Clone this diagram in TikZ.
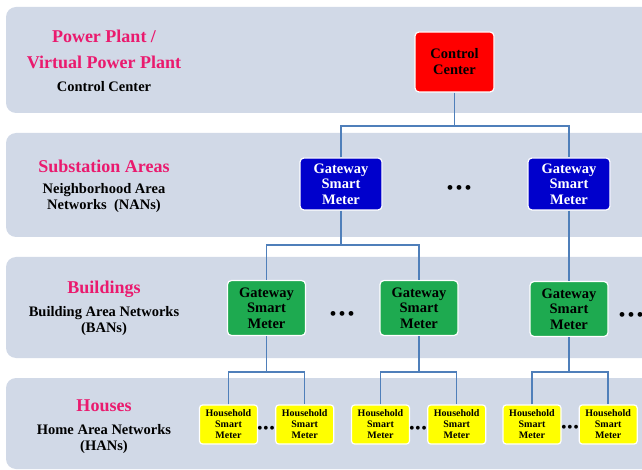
\documentclass[tikz,border=0pt]{standalone}
\usepackage{fontspec}
\setmainfont{Liberation Serif}
\usetikzlibrary{positioning}
\definecolor{bandgray}{HTML}{D1D9E7}
\definecolor{tierpink}{HTML}{EA1A6E}
\definecolor{wireblue}{HTML}{4F7FBA}
\definecolor{ctrlred}{HTML}{FF0000}
\definecolor{gwblue}{HTML}{0000CC}
\definecolor{bdgreen}{HTML}{1EAA50}
\definecolor{hmyellow}{HTML}{FFFF00}

\begin{document}
\begin{tikzpicture}[
    x=1pt, y=-1pt,
    band/.style={fill=bandgray,rounded corners=10pt},
    tier/.style={text=tierpink,font=\fontsize{18}{26}\selectfont\bfseries,align=center,inner sep=0pt},
    tiersub/.style={font=\fontsize{14.5}{16}\selectfont\bfseries,align=center,inner sep=0pt},
    box/.style={draw=white,line width=1.2pt,rounded corners=4pt,align=center,inner sep=0pt,font=\fontsize{14.5}{15.5}\selectfont\bfseries},
    ctrlbox/.style={box,fill=ctrlred,minimum width=79pt,minimum height=60pt,font=\fontsize{14.5}{16}\selectfont\bfseries},
    gwbox/.style={box,fill=gwblue,text=white,minimum width=82pt,minimum height=52pt},
    bdbox/.style={box,fill=bdgreen,minimum width=78pt,minimum height=55pt},
    hmbox/.style={box,fill=hmyellow,minimum width=58pt,minimum height=39pt,rounded corners=3pt,font=\fontsize{10}{11}\selectfont\bfseries},
    wire/.style={wireblue,line width=1.5pt},
    more/.style={inner sep=0pt,font=\fontsize{#1}{#1}\selectfont}
  ]
    \clip (0,0) rectangle (642,470);
    \fill[band] (6,7) rectangle (680,113);
    \fill[band] (6,133) rectangle (680,237);
    \fill[band] (6,257) rectangle (680,358);
    \fill[band] (6,378) rectangle (680,469);

    \node[tier] (pp) at (104,49) {Power Plant /\\Virtual Power Plant};
    \node[tiersub] (ppsub) at (104,87) {Control Center};
    \node[tier] (sa) at (104,166) {Substation Areas};
    \node[tiersub] (sasub) at (104,198) {Neighborhood Area\\Networks\ \ (NANs)};
    \node[tier] (bl) at (104,289) {Buildings};
    \node[tiersub] (blsub) at (104,321) {Building Area Networks\\(BANs)};
    \node[tier] (hs) at (104,406) {Houses};
    \node[tiersub] (hssub) at (104,439) {Home Area Networks\\(HANs)};

    \node[ctrlbox] (ctrl) at (454.5,62) {Control\\Center};
    \node[gwbox] (gw1) at (341,184) {Gateway\\Smart\\Meter};
    \node[gwbox] (gw2) at (569,184) {Gateway\\Smart\\Meter};
    \node[bdbox] (bd1) at (266.5,308) {Gateway\\Smart\\Meter};
    \node[bdbox] (bd2) at (419,308) {Gateway\\Smart\\Meter};
    \node[bdbox] (bd3) at (569,309) {Gateway\\Smart\\Meter};
    \node[hmbox] (hm1) at (228.5,424.5) {Household\\Smart\\Meter};
    \node[hmbox,right=17pt of hm1] (hm2) {Household\\Smart\\Meter};
    \node[hmbox] (hm3) at (380.5,424.5) {Household\\Smart\\Meter};
    \node[hmbox,right=17pt of hm3] (hm4) {Household\\Smart\\Meter};
    \node[hmbox] (hm5) at (532,424.5) {Household\\Smart\\Meter};
    \node[hmbox,right=17pt of hm5] (hm6) {Household\\Smart\\Meter};

    \node[more=20] (dots1) at (459,190) {\textbullet\hspace{2pt}\textbullet\hspace{2pt}\textbullet};
    \node[more=20] (dots2) at (342,316) {\textbullet\hspace{2pt}\textbullet\hspace{2pt}\textbullet};
    \node[more=20] (dots3) at (631,317) {\textbullet\hspace{2pt}\textbullet\hspace{2pt}\textbullet};
    \node[more=16] (dots4) at (266,430) {\textbullet\hspace{0.5pt}\textbullet\hspace{0.5pt}\textbullet};
    \node[more=16] (dots5) at (418,430) {\textbullet\hspace{0.5pt}\textbullet\hspace{0.5pt}\textbullet};
    \node[more=16] (dots6) at (570,429) {\textbullet\hspace{0.5pt}\textbullet\hspace{0.5pt}\textbullet};

    \coordinate (bus1) at (454.5,126);
    \coordinate (bus2) at (341,245);
    \coordinate (bus3) at (266.5,372);
    \coordinate (bus4) at (419,372);
    \coordinate (bus5) at (569,372);
    \draw[wire] (ctrl.south) -- (bus1);
    \draw[wire] (gw1.north) |- (bus1) -| (gw2.north);
    \draw[wire] (gw1.south) -- (bus2);
    \draw[wire] (bd1.north) |- (bus2) -| (bd2.north);
    \draw[wire] (gw2.south) -- (bd3.north);
    \draw[wire] (bd1.south) -- (bus3);
    \draw[wire] (hm1.north) |- (bus3) -| (hm2.north);
    \draw[wire] (bd2.south) -- (bus4);
    \draw[wire] (hm3.north) |- (bus4) -| (hm4.north);
    \draw[wire] (bd3.south) -- (bus5);
    \draw[wire] (hm5.north) |- (bus5) -| (hm6.north);
  \end{tikzpicture}
\end{document}
